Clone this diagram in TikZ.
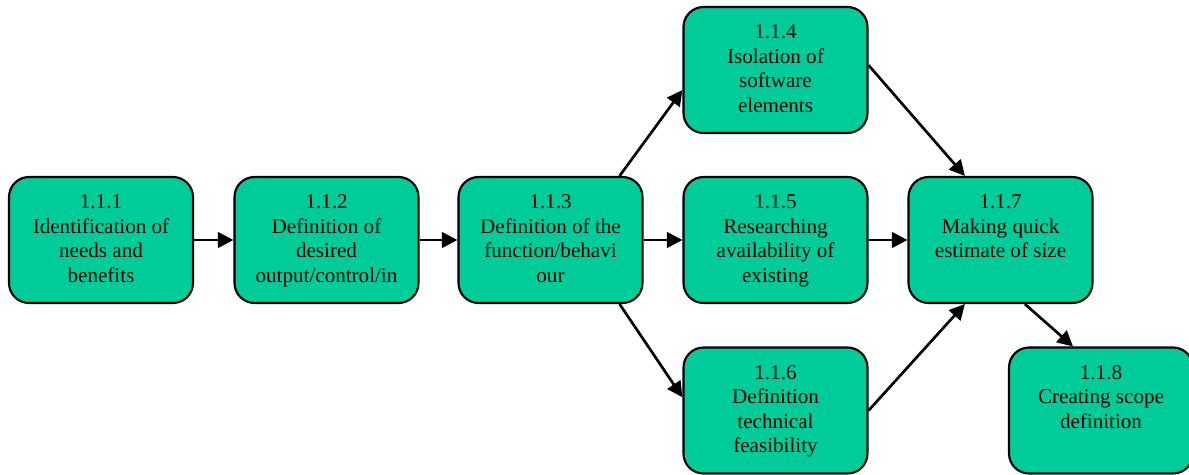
\documentclass[tikz,border=0pt]{standalone}
\usepackage{fontspec}
\setmainfont{Liberation Serif}
\usepackage{xcolor}
\usepackage{tikz}
\usetikzlibrary{positioning,calc}
\usetikzlibrary{arrows, shapes, arrows.meta}
\definecolor{taskgreen}{RGB}{0,204,153}
\tikzstyle{task} = [rectangle, rounded corners=0.5cm, minimum width=4.6cm, minimum height=3.15cm, inner xsep=0.1cm, inner ysep=0.45cm, draw=black, line width=1.5pt, fill=taskgreen, font=\fontsize{15}{17.4}\selectfont]
\tikzstyle{arrow} = [line width=1.9pt,-{Triangle[length=11pt,width=11pt]}]
\newcommand{\tasktext}[1]{\parbox[c][2.25cm][t]{4.4cm}{\centering #1}}

\begin{document}
\begin{tikzpicture}[]
    \useasboundingbox (0,0) rectangle (29.725,11.85);
    \node[task] (T1) at (2.525,5.85) {\tasktext{1.1.1\\Identification of\\needs and\\benefits}};
    \node[task] (T2) at (8.1625,5.85) {\tasktext{1.1.2\\Definition of\\desired\\output/control/in}};
    \node[task] (T3) at (13.7625,5.85) {\tasktext{1.1.3\\Definition of the\\function/behavi\\our}};
    \node[task] (T4) at (19.3875,10.1) {\tasktext{1.1.4\\Isolation of\\software\\elements}};
    \node[task] (T5) at (19.3875,5.85) {\tasktext{1.1.5\\Researching\\availability of\\existing}};
    \node[task] (T6) at (19.3875,1.5875) {\tasktext{1.1.6\\Definition\\technical\\feasibility}};
    \node[task] (T7) at (25.0125,5.85) {\tasktext{1.1.7\\Making quick\\estimate of size}};
    \node[task] (T8) at (27.525,1.5875) {\tasktext{1.1.8\\Creating scope\\definition}};
    \draw [arrow] (T1.east) -- (T2.west);
    \draw [arrow] (T2.east) -- (T3.west);
    \draw [arrow] (T3.east) -- (T5.west);
    \draw [arrow] (T5.east) -- (T7.west);
    \draw [arrow] ($(T3.north east)+(-0.6,0)$) -- ($(T4.west)+(0,-0.5)$);
    \draw [arrow] ($(T3.south east)+(-0.6,0)$) -- ($(T6.west)+(0,0.33)$);
    \draw [arrow] ($(T4.east)+(0,0.12)$) -- ($(T7.north)+(-0.89,0)$);
    \draw [arrow] (T6.east) -- ($(T7.south)+(-0.89,0)$);
    \draw [arrow] ($(T7.south)+(0.61,0)$) -- ($(T8.north)+(-0.7,0)$);
\end{tikzpicture}
\end{document}
